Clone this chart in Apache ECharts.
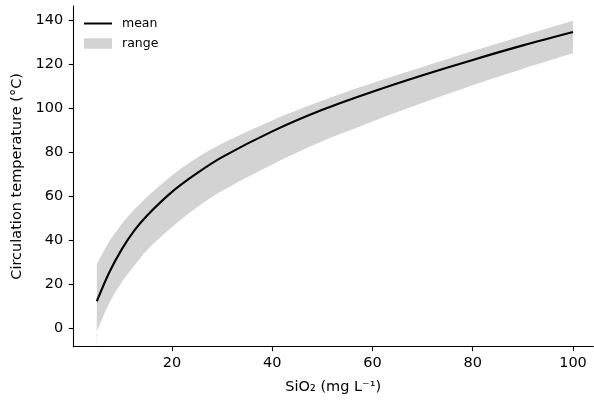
<!DOCTYPE html>
<html>
<head>
<meta charset="utf-8">
<script src="https://cdn.jsdelivr.net/npm/echarts@6/dist/echarts.min.js"></script>
<style>
  html, body { margin: 0; padding: 0; background: #fff; }
  #chart { width: 594px; height: 401px; }
</style>
</head>
<body>
<div id="chart"></div>
<script>
// SiO2 concentration (mg/L)
var sio2 = [5, 7.5, 10, 12.5, 15, 20, 25, 30, 40, 50, 60, 70, 80, 90, 100];
// circulation temperature (degC)
var meanT = [12.3, 25.5, 36, 44.5, 51.2, 62, 70.5, 77.8, 89.5, 99.3, 107.5, 115, 122, 128.6, 134.7];
var upperT = [29.3, 39.5, 47.5, 54, 59.7, 69.5, 77.5, 84, 94.5, 103.5, 111.5, 118.8, 126, 133, 139.8];
var lowerT = [-1.5, 11.5, 21, 28.5, 35.5, 46, 55, 62.5, 74.5, 85, 94, 102.5, 110.5, 118, 125];
var xTicks = [20, 40, 60, 80, 100];
var yTicks = [0, 20, 40, 60, 80, 100, 120, 140];

var font = 'DejaVu Sans';
var chart = echarts.init(document.getElementById('chart'));

function pairs(xs, ys) {
    var out = [];
    for (var i = 0; i < xs.length; i++) out.push([xs[i], ys[i]]);
    return out;
}

var axisCommon = {
    z: 10,
    axisLine: { show: true, onZero: false, lineStyle: { color: '#000', width: 1.1 } },
    axisTick: { show: true, inside: false, length: 4.5, lineStyle: { color: '#000', width: 1.1 } },
    splitLine: { show: false },
    nameTextStyle: { fontFamily: font, fontSize: 14.5, color: '#000' }
};

var option = {
    animation: false,
    grid: { left: 73.3, right: 0.7, top: 6, bottom: 54.3, containLabel: false },
    legend: {
        orient: 'vertical',
        left: 83,
        top: 17,
        padding: 0,
        itemWidth: 28,
        itemHeight: 10.5,
        itemGap: 7,
        textStyle: { fontFamily: font, fontSize: 12.5, color: '#000', padding: [0, 0, 0, 5] },
        data: [
            { name: 'mean', itemStyle: { opacity: 0 } },
            { name: 'range', icon: 'rect' }
        ]
    },
    xAxis: Object.assign({}, axisCommon, {
        type: 'value',
        min: 0.31,
        max: 104.05,
        name: 'SiO\u2082 (mg L\u207B\u00B9)',
        nameLocation: 'middle',
        nameGap: 33,
        axisTick: Object.assign({}, axisCommon.axisTick, { customValues: xTicks }),
        axisLabel: { customValues: xTicks, margin: 9, fontFamily: font, fontSize: 14.5, color: '#000' }
    }),
    yAxis: Object.assign({}, axisCommon, {
        type: 'value',
        min: -8.36,
        max: 146.5,
        name: 'Circulation temperature (\u00B0C)',
        nameLocation: 'middle',
        nameGap: 48,
        axisTick: Object.assign({}, axisCommon.axisTick, { customValues: yTicks }),
        axisLabel: { customValues: yTicks, margin: 10, fontFamily: font, fontSize: 14.5, color: '#000' }
    }),
    series: [
        {
            // upper edge of the band, filled down to the axis
            name: 'range',
            type: 'line',
            data: pairs(sio2, upperT),
            symbol: 'none',
            smooth: 0.3,
            lineStyle: { width: 0, opacity: 0 },
            itemStyle: { color: '#d3d3d3' },
            areaStyle: { color: '#d3d3d3', opacity: 1, origin: 'start' },
            z: 1
        },
        {
            // lower edge, blanks the fill below it
            name: 'lowerBound',
            type: 'line',
            data: pairs(sio2, lowerT),
            symbol: 'none',
            smooth: 0.3,
            silent: true,
            lineStyle: { width: 0, opacity: 0 },
            itemStyle: { color: '#fff' },
            areaStyle: { color: '#fff', opacity: 1, origin: 'start' },
            z: 2
        },
        {
            name: 'mean',
            type: 'line',
            data: pairs(sio2, meanT),
            symbol: 'none',
            smooth: 0.3,
            itemStyle: { color: '#000' },
            lineStyle: { color: '#000', width: 2.1 },
            z: 5
        }
    ]
};

chart.setOption(option);
</script>
</body>
</html>
